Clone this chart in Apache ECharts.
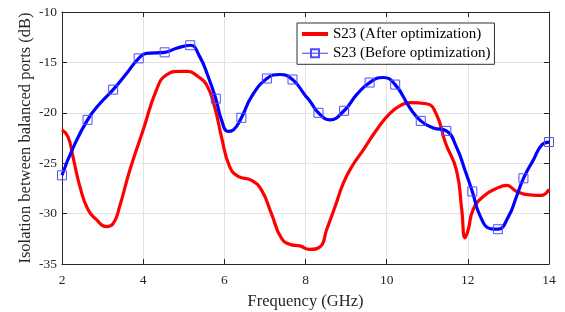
<!DOCTYPE html>
<html>
<head>
<meta charset="utf-8">
<script src="https://cdn.jsdelivr.net/npm/echarts@6/dist/echarts.min.js"></script>
<style>
  html, body { margin: 0; padding: 0; background: #fff; }
  #chart { width: 565px; height: 312px; }
</style>
</head>
<body>
<div id="chart"></div>
<script>
// S23 after optimization (red)
var afterData = [
  [2.0, -21.7], [2.15, -22.4], [2.27, -24.35], [2.44, -27.3], [2.64, -29.6],
  [2.85, -30.6], [3.09, -31.3], [3.26, -31.0], [3.42, -29.3], [3.67, -25.7],
  [4.0, -21.7], [4.33, -17.7], [4.57, -16.25], [4.9, -15.9], [5.1, -15.9],
  [5.35, -16.4], [5.56, -17.2], [5.76, -19.4], [5.93, -22.4], [6.13, -25.35],
  [6.34, -26.3], [6.67, -26.7], [6.92, -27.7], [7.16, -30.0], [7.41, -32.45],
  [7.66, -33.1], [7.86, -33.2], [8.1, -33.55], [8.36, -33.3], [8.52, -31.6],
  [8.73, -29.3], [8.93, -27.0], [9.14, -25.35], [9.42, -23.7], [9.75, -21.7],
  [10.08, -20.05], [10.37, -19.2], [10.57, -19.0], [10.98, -19.1], [11.22, -20.1],
  [11.45, -23.0], [11.72, -25.7], [11.85, -29.6], [11.93, -32.4], [12.01, -31.6],
  [12.13, -29.6], [12.38, -28.3], [12.71, -27.5], [12.96, -27.2], [13.2, -27.8],
  [13.53, -28.15], [13.8, -28.2], [14.0, -27.6]
];

// S23 before optimization (blue)
var beforeData = [
  [2.0, -26.2], [2.27, -23.5], [2.63, -20.7], [2.93, -19.1], [3.26, -17.7],
  [3.59, -16.1], [3.89, -14.6], [4.08, -14.1], [4.53, -14.0], [4.82, -13.6],
  [5.16, -13.3], [5.39, -14.4], [5.6, -16.4], [5.79, -18.6], [5.93, -20.7],
  [6.09, -21.85], [6.22, -21.7], [6.42, -20.5], [6.67, -18.4], [7.05, -16.6],
  [7.37, -16.2], [7.68, -16.7], [7.98, -18.2], [8.12, -18.9], [8.32, -20.0],
  [8.6, -20.7], [8.95, -19.8], [9.26, -18.2], [9.58, -17.0], [9.91, -16.5],
  [10.21, -17.2], [10.57, -19.5], [10.84, -20.8], [11.15, -21.5], [11.47, -21.8],
  [11.72, -23.4], [11.93, -25.7], [12.11, -27.8], [12.31, -30.3], [12.56, -31.5],
  [12.74, -31.55], [13.0, -30.3], [13.2, -28.3], [13.37, -26.5], [13.61, -24.7],
  [13.82, -23.2], [14.0, -22.9]
];

// frequencies where the square markers sit on the blue curve
var markerFreq = [2.0, 2.63, 3.26, 3.89, 4.53, 5.16, 5.79, 6.42, 7.05, 7.68,
  8.32, 8.95, 9.58, 10.21, 10.84, 11.47, 12.11, 12.74, 13.37, 14.0];

var xTicks = [2, 4, 6, 8, 10, 12, 14];
var yTicks = [-35, -30, -25, -20, -15, -10];

var serif = 'Liberation Serif';
var axisColor = '#262626';

function isMarker(x) {
  for (var i = 0; i < markerFreq.length; i++) {
    if (Math.abs(markerFreq[i] - x) < 1e-6) return true;
  }
  return false;
}

var chart = echarts.init(document.getElementById('chart'));

var xBase = {
  type: 'value', min: xTicks[0], max: xTicks[xTicks.length - 1], interval: 2,
  axisLine: { show: true, lineStyle: { color: axisColor, width: 1 } },
  axisTick: { show: true, inside: true, length: 5, lineStyle: { color: axisColor } }
};
var yBase = {
  type: 'value', min: yTicks[0], max: yTicks[yTicks.length - 1], interval: 5,
  axisLine: { show: true, onZero: false, lineStyle: { color: axisColor, width: 1 } },
  axisTick: { show: true, inside: true, length: 5, lineStyle: { color: axisColor } }
};

chart.setOption({
  animation: false,
  grid: { left: 62, right: 16, top: 12, bottom: 48, outerBoundsMode: 'none', containLabel: false },
  legend: {
    orient: 'vertical',
    left: 297,
    top: 23,
    padding: [3, 4, 3, 3],
    itemGap: 3.3,
    itemWidth: 26,
    itemHeight: 10,
    backgroundColor: '#fff',
    borderColor: '#333',
    borderWidth: 1,
    textStyle: { fontFamily: serif, fontSize: 15, lineHeight: 16, color: '#000' },
    data: [
      {
        name: 'S23 (After optimization)',
        itemStyle: { color: 'rgba(0,0,0,0)', borderWidth: 0 },
        lineStyle: { width: 4 }
      },
      {
        name: 'S23 (Before optimization)',
        lineStyle: { width: 1.2, color: '#5c5cff' }
      }
    ]
  },
  xAxis: [
    Object.assign({}, xBase, {
      position: 'bottom',
      name: 'Frequency (GHz)',
      nameLocation: 'middle',
      nameGap: 29,
      nameMoveOverlap: false,
      nameTextStyle: { fontFamily: serif, fontSize: 16.5, color: axisColor },
      axisLabel: { fontFamily: serif, fontSize: 13.5, color: axisColor, margin: 9 },
      splitLine: { show: true, lineStyle: { color: '#e3e3e3', width: 1 } }
    }),
    Object.assign({}, xBase, {
      position: 'top',
      axisLabel: { show: false },
      splitLine: { show: false }
    })
  ],
  yAxis: [
    Object.assign({}, yBase, {
      position: 'left',
      name: 'Isolation between balanced ports (dB)',
      nameLocation: 'middle',
      nameGap: 28,
      nameMoveOverlap: false,
      nameTextStyle: { fontFamily: serif, fontSize: 16.5, color: axisColor },
      axisLabel: { fontFamily: serif, fontSize: 13.5, color: axisColor, margin: 5 },
      splitLine: { show: true, lineStyle: { color: '#e3e3e3', width: 1 } }
    }),
    Object.assign({}, yBase, {
      position: 'right',
      axisLabel: { show: false },
      splitLine: { show: false }
    })
  ],
  series: [
    {
      name: 'S23 (After optimization)',
      type: 'line',
      data: afterData,
      smooth: 0.5,
      symbol: 'none',
      color: '#ff0000',
      lineStyle: { color: '#ff0000', width: 3.2 },
      z: 2
    },
    {
      name: 'S23 (Before optimization)',
      type: 'line',
      data: beforeData,
      smooth: 0.5,
      symbol: 'rect',
      showSymbol: true,
      showAllSymbol: true,
      symbolSize: function (val) { return isMarker(val[0]) ? 9 : 0; },
      color: '#3333ff',
      itemStyle: { color: 'rgba(0,0,0,0)', borderColor: '#4d4dff', borderWidth: 1 },
      lineStyle: { color: '#0000ff', width: 3.2 },
      z: 3
    }
  ]
});
</script>
</body>
</html>
